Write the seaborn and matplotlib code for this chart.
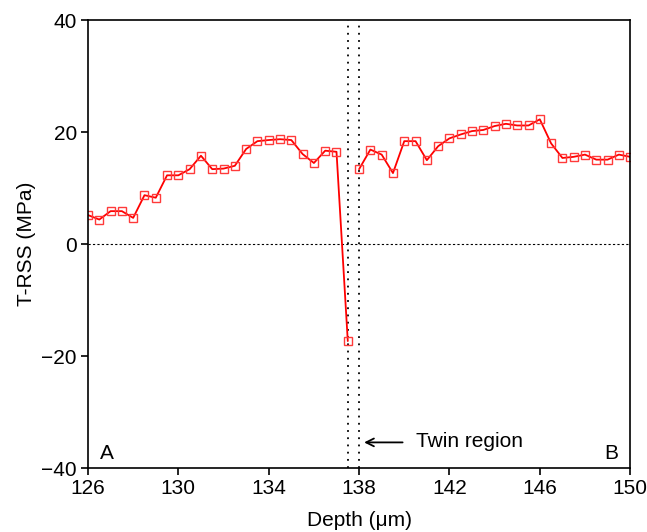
import matplotlib
matplotlib.use("Agg")
import matplotlib.pyplot as plt
import seaborn as sns
import pandas as pd
import numpy as np

sns.set_style("ticks")
plt.rcParams['font.family'] = ['Liberation Sans', 'DejaVu Sans']
plt.rcParams['text.color'] = 'black'
plt.rcParams['axes.labelcolor'] = 'black'
plt.rcParams['xtick.color'] = 'black'
plt.rcParams['ytick.color'] = 'black'

# Depth (µm) and T-RSS (MPa) - left of twin region
depth_a = [126.0, 126.5, 127.0, 127.5, 128.0, 128.5, 129.0, 129.5, 130.0, 130.5,
           131.0, 131.5, 132.0, 132.5, 133.0, 133.5, 134.0, 134.5, 135.0, 135.5,
           136.0, 136.5, 137.0, 137.5]
trss_a = [5.2, 4.4, 5.9, 5.9, 4.7, 8.75, 8.3, 12.3, 12.3, 13.4,
          15.8, 13.4, 13.5, 14.0, 17.0, 18.4, 18.6, 18.75, 18.6, 16.1,
          14.5, 16.7, 16.5, -17.3]
# right of twin region
depth_b = [138.0, 138.5, 139.0, 139.5, 140.0, 140.5, 141.0, 141.5, 142.0, 142.5,
           143.0, 143.5, 144.0, 144.5, 145.0, 145.5, 146.0, 146.5, 147.0, 147.5,
           148.0, 148.5, 149.0, 149.5, 150.0]
trss_b = [13.4, 16.9, 16.0, 12.7, 18.4, 18.4, 15.0, 17.5, 18.9, 19.6,
          20.2, 20.4, 21.1, 21.5, 21.2, 21.2, 22.3, 18.0, 15.4, 15.6,
          16.0, 15.1, 15.1, 16.0, 15.6]

twin_bounds = [137.5, 138.0]
x_ticks = [126, 130, 134, 138, 142, 146, 150]
y_ticks = [-40, -20, 0, 20, 40]

df_a = pd.DataFrame({"depth": depth_a, "trss": trss_a})
df_b = pd.DataFrame({"depth": depth_b, "trss": trss_b})

fig = plt.figure(figsize=(6.47, 5.32), dpi=100)
ax = fig.add_axes([0.136, 0.120, 0.838, 0.842])

for d in (df_a, df_b):
    sns.lineplot(data=d, x="depth", y="trss", ax=ax, color="#ff0000", lw=1.3,
                 marker="s", markersize=6.3, markerfacecolor="none",
                 markeredgecolor="#ff3a3a", markeredgewidth=1.0, estimator=None,
                 sort=False)

ax.axhline(0, color="black", lw=0.8, ls=(0, (2, 2)), zorder=0)
for xb in twin_bounds:
    ax.axvline(xb, color="black", lw=1.3, ls=(0, (1, 3)), zorder=0)

ax.set_xlim(126, 150)
ax.set_ylim(-40, 40)
ax.set_xticks(x_ticks)
ax.set_yticks(y_ticks)
ax.set_yticklabels([("\u2212" + str(abs(v))) if v < 0 else str(v) for v in y_ticks])
ax.tick_params(direction="out", length=5, width=1.2, labelsize=15, color="black",
               labelcolor="black", pad=3)
for s in ax.spines.values():
    s.set_visible(True)
    s.set_linewidth(1.2)
    s.set_color("black")

ax.set_xlabel("Depth (\u03bcm)", fontsize=15, labelpad=9)
ax.set_ylabel("T-RSS (MPa)", fontsize=15, labelpad=4)

ax.text(126.85, -37.3, "A", fontsize=15, ha="center", va="center")
ax.text(149.15, -37.3, "B", fontsize=15, ha="center", va="center")
ax.annotate("", xy=(138.1, -35.4), xytext=(140.05, -35.4),
            arrowprops=dict(arrowstyle="->", color="black", lw=1.3,
                            mutation_scale=14))
ax.text(140.5, -35.2, "Twin region", fontsize=15, ha="left", va="center")

fig.savefig("out.png", dpi=100)
